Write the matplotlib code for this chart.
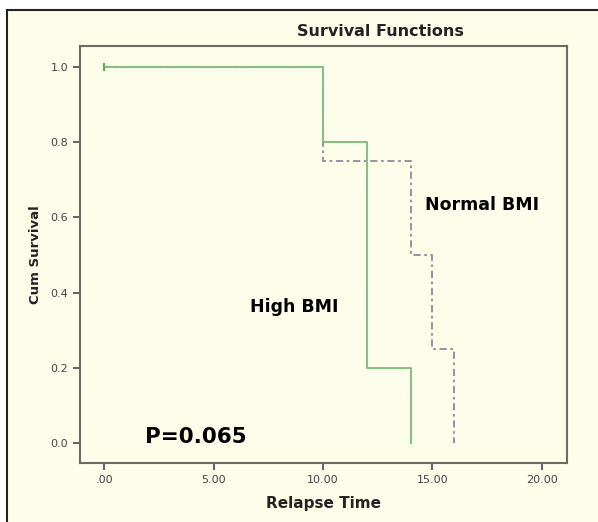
import matplotlib
matplotlib.use('Agg')
import matplotlib.pyplot as plt
from matplotlib.patches import Rectangle

# Kaplan-Meier step data
high_time = [0, 10, 12, 14]
high_surv = [1.0, 0.8, 0.2, 0.0]
normal_time = [0, 10, 14, 15, 16]
normal_surv = [1.0, 0.75, 0.5, 0.25, 0.0]
censor_time = [0]
censor_surv = [1.0]
xticks = [0, 5, 10, 15, 20]
yticks = [0.0, 0.2, 0.4, 0.6, 0.8, 1.0]

plt.rcParams['font.family'] = ['DejaVu Sans']

bg = '#fdfdea'
fig = plt.figure(figsize=(5.98, 5.22), dpi=100, facecolor='white')
fig.patches.append(Rectangle((7/598, -0.05), 1.2, 1 - 10/522 + 0.05,
                             transform=fig.transFigure, facecolor=bg,
                             edgecolor='#222222', lw=1.5, zorder=-10))

ax = fig.add_axes([80/598, 59/522, 487/598, 417/522])
ax.set_facecolor(bg)

def steps(t, s):
    xs, ys = [], []
    for i in range(len(t)):
        xs.append(t[i]); ys.append(s[i])
        if i + 1 < len(t):
            xs.append(t[i+1]); ys.append(s[i])
    return xs, ys

xs, ys = steps(normal_time, normal_surv)
ax.plot(xs, ys, color='#8a8a9a', lw=1.3, dashes=(4, 2, 1.5, 2))
xs, ys = steps(high_time, high_surv)
ax.plot(xs, ys, color='#82bf82', lw=1.4)
ax.plot(censor_time, censor_surv, marker='|', color='#5fa85f', ms=6, mew=1.5)

ax.set_xlim(-1.1, 21.15)
ax.set_ylim(-0.053, 1.056)
ax.set_xticks(xticks)
ax.set_xticklabels(['.00' if v == 0 else '%.2f' % v for v in xticks])
ax.set_yticks(yticks)
ax.set_yticklabels(['%.1f' % v for v in yticks])
ax.tick_params(colors='#555555', labelsize=8, length=5, width=1.3,
               labelcolor='#444444')
for sp in ax.spines.values():
    sp.set_color('#6b6b60')
    sp.set_linewidth(1.5)

ax.set_xlabel('Relapse Time', fontsize=11, fontweight='bold', color='#222222', labelpad=8)
ax.set_ylabel('Cum Survival', fontsize=9.5, fontweight='bold', color='#222222', labelpad=6)
fig.text(380/598, 1 - 31/522, 'Survival Functions', ha='center', va='center',
         fontsize=11.5, fontweight='bold', color='#222222')

ax.text(14.66, 0.633, 'Normal BMI', fontsize=12.5, fontweight='heavy', va='center')
ax.text(6.67, 0.362, 'High BMI', fontsize=12.5, fontweight='heavy', va='center')
ax.text(1.87, 0.016, 'P=0.065', fontsize=15.5, fontweight='heavy', va='center')

fig.savefig('out.png', dpi=100, facecolor=fig.get_facecolor())
